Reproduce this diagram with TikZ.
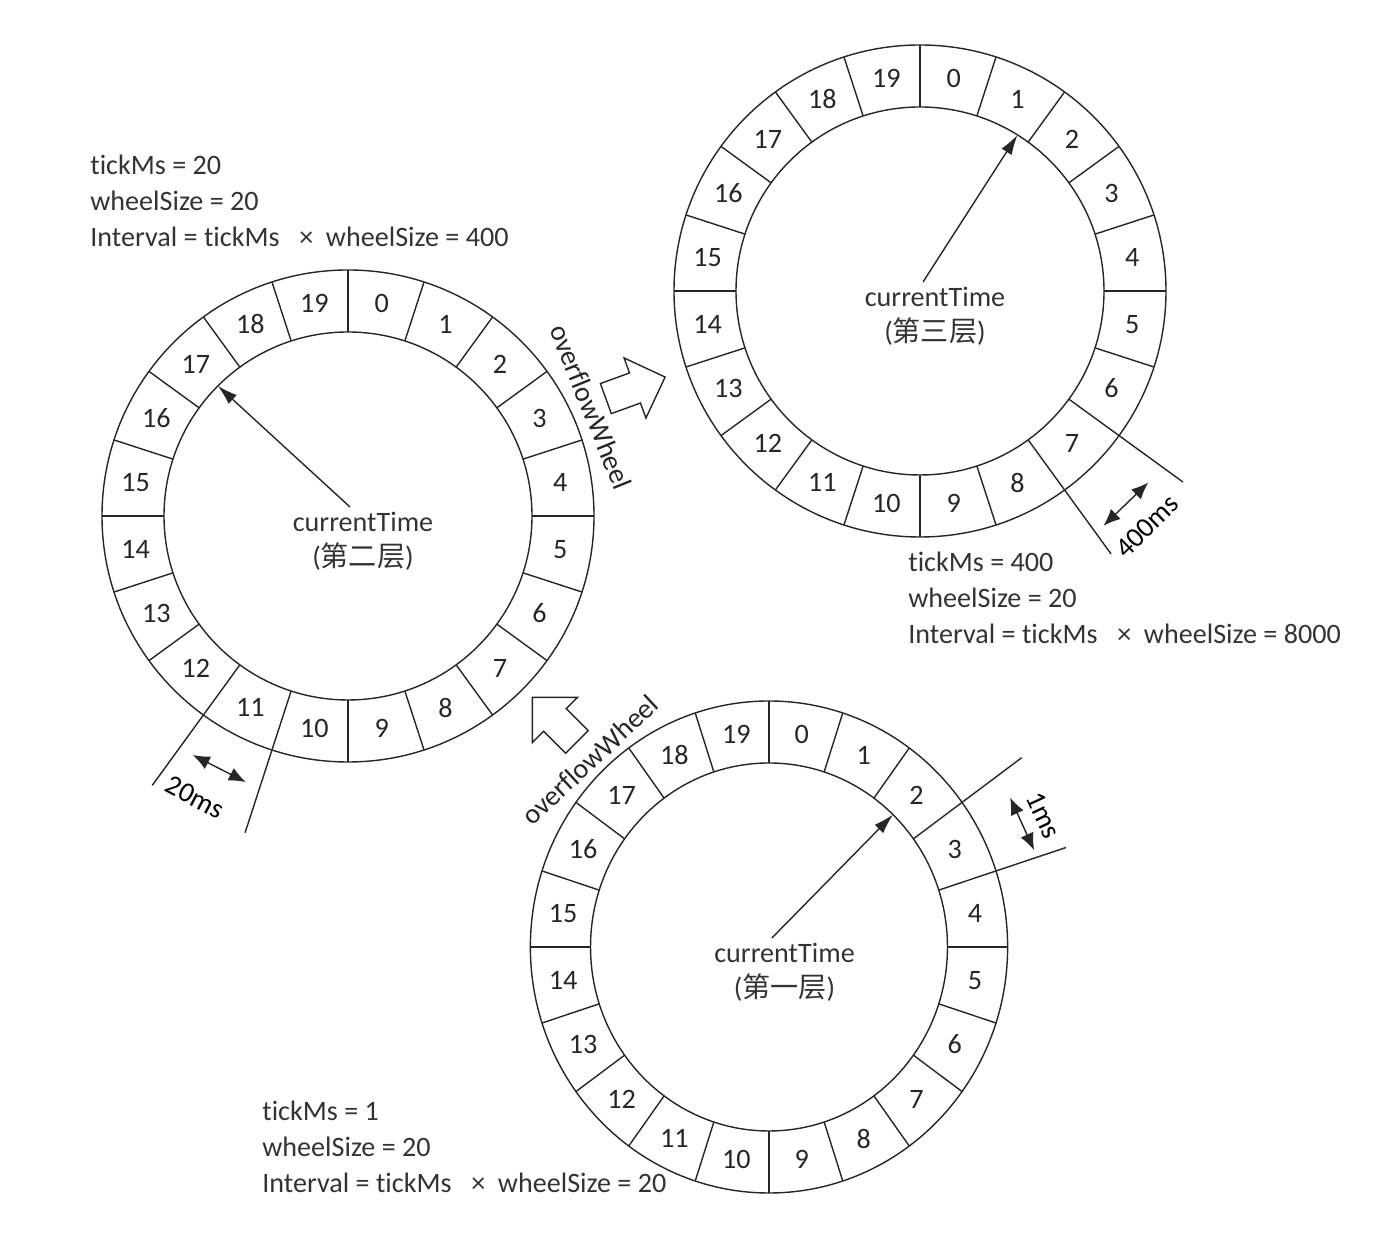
\documentclass[tikz,border=0pt]{standalone}
\usepackage{fontspec}
\setmainfont{Carlito}[Ligatures={NoCommon}]
\newfontfamily\cjk{Noto Sans CJK SC}
\usetikzlibrary{arrows.meta}

\tikzset{
  ink/.style={draw=black!85, line width=0.8pt},
  slotnum/.style={text=black!85, inner sep=0pt},
  centre/.style={align=center, inner sep=0pt, text=black!80,
    font=\fontsize{16}{19.9}\selectfont},
  hand/.style={ink, -{Latex[length=4mm,width=2.4mm]}},
  span/.style={ink, {Latex[length=3.4mm,width=2.8mm]}-{Latex[length=3.4mm,width=2.8mm]}},
  params/.style={anchor=west, align=left, inner sep=0pt, text=black!80,
    font=\fontsize{16}{20.4}\selectfont},
  bigarrow/.pic={
    \draw[ink] (-31,-16) -- (0,-16) -- (0,-32) -- (32,0) -- (0,32) -- (0,16) -- (-31,16) -- cycle;
  }
}

\begin{document}
\begin{tikzpicture}[x=0.2mm, y=0.2mm, font=\fontsize{16}{19}\selectfont]
  \useasboundingbox (0,0) rectangle (1388,1260);

  % second level wheel
  \begin{scope}[shift={(348,744)}]
    \draw[ink] (0,0) circle (246) (0,0) circle (184);
    \foreach \a in {0,18,...,342}
      \draw[ink] (\a:184) -- (\a:246);
    \foreach \i in {0,...,19}
      \node[slotnum] (w2n\i) at ({81-18*\i}:215) {\i};
    \node[centre] (w2txt) at (15,-25) {currentTime\\({\cjk 第二层})};
    \coordinate (w2from) at (2,9);
    \coordinate (w2tip) at (135:184);
    \draw[hand] (w2from) -- (w2tip);
    \draw[ink] (-126:246) -- (-126:333);
    \draw[ink] (-108:246) -- (-108:333);
    \coordinate (w2l) at (-123:285);
    \coordinate (w2r) at (-111:285);
    \draw[span] (w2l) -- (w2r);
    \node[rotate=-28] (w2ms) at (-118.5:320) {20ms};
  \end{scope}

  % third level wheel
  \begin{scope}[shift={(920,969)}]
    \draw[ink] (0,0) circle (246) (0,0) circle (184);
    \foreach \a in {0,18,...,342}
      \draw[ink] (\a:184) -- (\a:246);
    \foreach \i in {0,...,19}
      \node[slotnum] (w3n\i) at ({81-18*\i}:215) {\i};
    \node[centre] (w3txt) at (15,-25) {currentTime\\({\cjk 第三层})};
    \coordinate (w3from) at (3,9);
    \coordinate (w3tip) at (58:184);
    \draw[hand] (w3from) -- (w3tip);
    \draw[ink] (-36:246) -- (-36:325);
    \draw[ink] (-54:246) -- (-54:325);
    \coordinate (w3l) at (-52:298);
    \coordinate (w3r) at (-40:298);
    \draw[span] (w3l) -- (w3r);
    \node[rotate=44] (w3ms) at (-46:327) {400ms};
  \end{scope}

  % first level wheel
  \begin{scope}[shift={(769,313)}, xscale=0.97]
    \draw[ink] (0,0) circle (246) (0,0) circle (184);
    \foreach \a in {0,18,...,342}
      \draw[ink] (\a:184) -- (\a:246);
    \foreach \i in {0,...,19}
      \node[slotnum] (w1n\i) at ({81-18*\i}:215) {\i};
    \node[centre] (w1txt) at (16,-25) {currentTime\\({\cjk 第一层})};
    \coordinate (w1from) at (3,9);
    \coordinate (w1tip) at (46:184);
    \draw[hand] (w1from) -- (w1tip);
    \draw[ink] (36:246) -- (36:322);
    \draw[ink] (18:246) -- (18:322);
    \coordinate (w1l) at (31:290);
    \coordinate (w1r) at (19.5:290);
    \draw[span] (w1l) -- (w1r);
    \node[rotate=-65] (w1ms) at (25:312) {1ms};
  \end{scope}

  % overflow arrows
  \node[rotate=-68, text=black!85] (ovf2) at (591,853) {overflowWheel};
  \pic[rotate=20] at (635,872) {bigarrow};
  \node[rotate=43, text=black!85] (ovf1) at (590,500) {overflowWheel};
  \pic[rotate=135] at (555,540) {bigarrow};

  % parameters
  \node[params] (p2) at (90,1059) {tickMs = 20\\wheelSize = 20\\Interval = tickMs\hspace{0.7em}×\hspace{0.45em}wheelSize = 400};
  \node[params] (p3) at (908,662) {tickMs = 400\\wheelSize = 20\\Interval = tickMs\hspace{0.7em}×\hspace{0.45em}wheelSize = 8000};
  \node[params] (p1) at (262,113) {tickMs = 1\\wheelSize = 20\\Interval = tickMs\hspace{0.7em}×\hspace{0.45em}wheelSize = 20};
\end{tikzpicture}
\end{document}
